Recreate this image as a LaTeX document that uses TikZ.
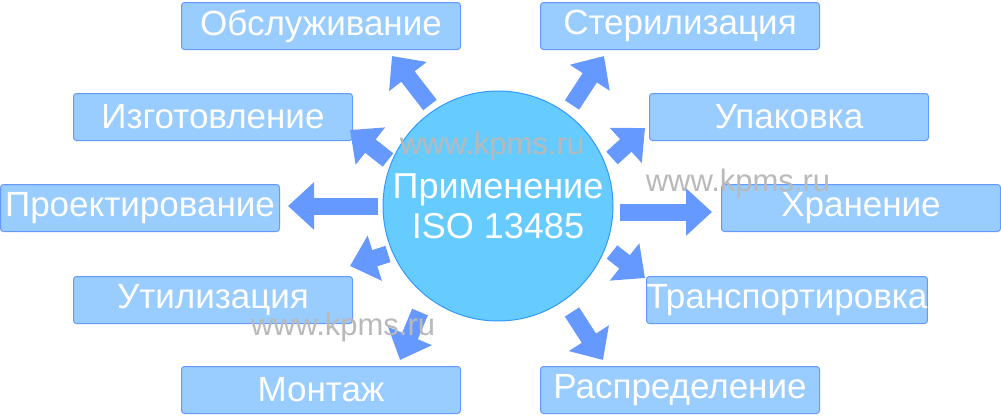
\documentclass[tikz,border=0pt]{standalone}
\usepackage{fontspec}
\setmainfont{Liberation Sans}
\usetikzlibrary{arrows.meta}
\definecolor{boxfill}{HTML}{99CCFF}
\definecolor{boxline}{HTML}{6699FF}
\definecolor{arr}{HTML}{6699FF}
\definecolor{circ}{HTML}{66CCFF}
\definecolor{circline}{HTML}{3399FF}
\begin{document}
\begin{tikzpicture}[x=1pt,y=-1pt,
  box/.style={draw=boxline,fill=boxfill,rounded corners=3pt,line width=1pt,minimum width=279pt,minimum height=47pt,inner sep=0pt,text=white,font=\fontsize{35}{37}\selectfont},
  barr/.style={draw=arr,line width=17pt,-{Triangle[length=26pt,width=46pt]}},
  wm/.style={text=gray!55,font=\fontsize{31}{33}\selectfont}]
\useasboundingbox (0,0) rectangle (1001,415);
\node[circle,draw=circline,fill=circ,line width=1pt,minimum size=230pt,inner sep=0pt] (c) at (498,206) {};
\node[text=white,align=center,font=\fontsize{36}{40}\selectfont] (ct) at (498,206) {Применение\\ISO 13485};
\node[box] (b1) at (321,26) {Обслуживание};
\node[box] (b2) at (680,26) {Стерилизация};
\node[box] (b3) at (213,117) {Изготовление};
\node[box] (b4) at (789,117) {Упаковка};
\node[box] (b5) at (140,208) {Проектирование};
\node[box] (b6) at (861,208) {Хранение};
\node[box] (b7) at (213,300) {Утилизация};
\node[box] (b8) at (787,300) {Транспортировка};
\node[box] (b9) at (321,390) {Монтаж};
\node[box] (b10) at (680,390) {Распределение};
\coordinate (s1) at (430,105); \coordinate (e1) at (392,56);
\coordinate (s2) at (572,105); \coordinate (e2) at (604,56);
\coordinate (s3) at (388,160); \coordinate (e3) at (350,130);
\coordinate (s4) at (612,158); \coordinate (e4) at (645,128);
\coordinate (s5) at (378,206); \coordinate (e5) at (288,206);
\coordinate (s6) at (620,212); \coordinate (e6) at (712,212);
\coordinate (s7) at (388,254); \coordinate (e7) at (350,266);
\coordinate (s8) at (612,252); \coordinate (e8) at (645,278);
\coordinate (s9) at (420,312); \coordinate (e9) at (400,360);
\coordinate (s10) at (572,312); \coordinate (e10) at (603,360);
\foreach \i in {1,...,10} \draw[barr] (s\i) -- (e\i);
\node[wm] (w1) at (492,146) {www.kpms.ru};
\node[wm] (w2) at (738,183) {www.kpms.ru};
\node[wm] (w3) at (343,327) {www.kpms.ru};
\end{tikzpicture}
\end{document}
